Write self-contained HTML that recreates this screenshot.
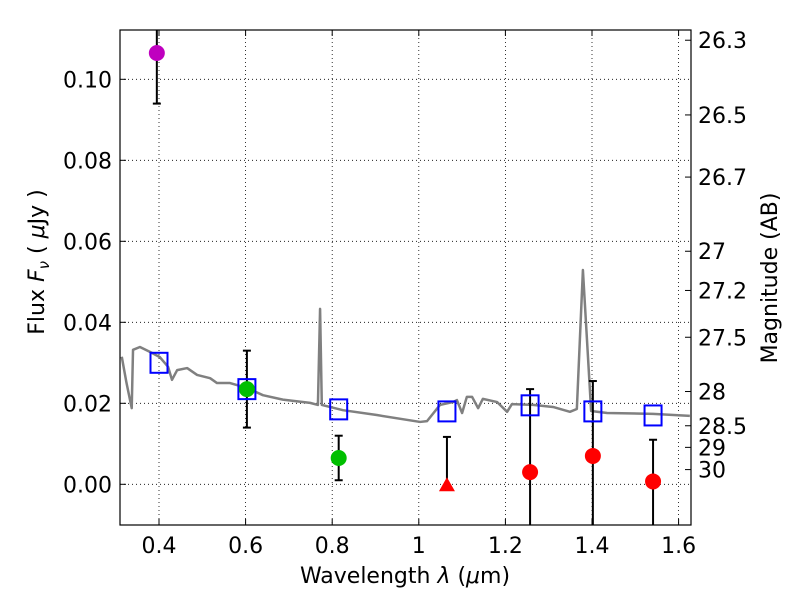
<!DOCTYPE html>
<html><head><meta charset="utf-8"><style>
body{margin:0;background:#fff;}
svg{display:block;font-family:"DejaVu Sans","Liberation Sans",sans-serif;}
</style></head><body>
<svg id="chart" width="800" height="600" xmlns="http://www.w3.org/2000/svg"></svg>
<script>
const specW=[0.314,0.325,0.337,0.340,0.356,0.379,0.402,0.421,0.430,0.442,0.465,0.488,0.518,0.534,0.564,0.603,0.640,0.686,0.749,0.767,0.772,0.776,0.825,0.903,1.003,1.019,1.049,1.079,1.088,1.100,1.111,1.123,1.137,1.148,1.181,1.204,1.215,1.264,1.310,1.349,1.365,1.379,1.398,1.435,1.541,1.626];
const specF=[0.0315,0.0250,0.0188,0.0332,0.0339,0.0327,0.0314,0.0290,0.0258,0.0282,0.0287,0.0270,0.0262,0.0250,0.0250,0.0238,0.0220,0.0209,0.0201,0.0196,0.0433,0.0196,0.0183,0.0171,0.0154,0.0156,0.0196,0.0203,0.0208,0.0176,0.0216,0.0216,0.0188,0.0211,0.0203,0.0179,0.0198,0.0196,0.0191,0.0179,0.0186,0.0529,0.0181,0.0176,0.0174,0.0169];
const modelW=[0.40,0.603,0.815,1.065,1.257,1.402,1.541];
const modelF=[0.0300,0.0235,0.0185,0.0180,0.0195,0.0180,0.0170];
const obsW=[0.395,0.603,0.815,1.257,1.402,1.541];
const obsF=[0.1065,0.0235,0.0065,0.0030,0.0070,0.0007];
const obsLo=[0.094,0.014,0.001,-0.011,-0.011,-0.011];
const obsHi=[0.113,0.033,0.012,0.0235,0.0255,0.011];
const obsColor=["#bf00bf","#00bf00","#00bf00","red","red","red"];
const limW=[1.065];const limF=[0.0];const limHi=[0.0117];
const xTicks=[0.4,0.6,0.8,1.0,1.2,1.4,1.6];
const xTickLabels=["0.4","0.6","0.8","1","1.2","1.4","1.6"];
const yTicks=[0.00,0.02,0.04,0.06,0.08,0.10];
const yTickLabels=["0.00","0.02","0.04","0.06","0.08","0.10"];
const magTicks=[26.3,26.5,26.7,27,27.2,27.5,28,28.5,29,30];
const magTickLabels=["26.3","26.5","26.7","27","27.2","27.5","28","28.5","29","30"];

const L=120,R=691,T=30,B=525;
const x=w=>159+(w-0.4)*433;
const y=f=>484.3-f*4050;
const NS="http://www.w3.org/2000/svg";
const svg=document.getElementById('chart');
function mk(tag,attrs,parent){const e=document.createElementNS(NS,tag);for(const k in attrs)e.setAttribute(k,attrs[k]);(parent||svg).appendChild(e);return e;}
const defs=mk('defs',{});const cp=mk('clipPath',{id:'clip'},defs);mk('rect',{x:L,y:T,width:R-L,height:B-T},cp);
const plot=mk('g',{'clip-path':'url(#clip)'});
xTicks.forEach(t=>{const l=mk('line',{x1:x(t),x2:x(t),y1:T,y2:B,stroke:'#000','stroke-width':0.8,'stroke-dasharray':'1,3'},plot);

});
yTicks.forEach(t=>{const l=mk('line',{x1:L,x2:R,y1:y(t),y2:y(t),stroke:'#000','stroke-width':0.8,'stroke-dasharray':'1,3'},plot);

});
const sp=mk('polyline',{points:specW.map((w,i)=>x(w)+','+y(specF[i])).join(' '),fill:'none',stroke:'#808080','stroke-width':2.5,'stroke-linejoin':'round'},plot);


obsW.forEach((w,i)=>{const g=mk('g',{stroke:'#000','stroke-width':2},plot);


mk('line',{x1:x(w),x2:x(w),y1:y(obsLo[i]),y2:y(obsHi[i])},g);
mk('line',{x1:x(w)-4,x2:x(w)+4,y1:y(obsLo[i]),y2:y(obsLo[i])},g);
mk('line',{x1:x(w)-4,x2:x(w)+4,y1:y(obsHi[i]),y2:y(obsHi[i])},g);});
limW.forEach((w,i)=>{const g=mk('g',{stroke:'#000','stroke-width':2},plot);


mk('line',{x1:x(w),x2:x(w),y1:y(limF[i]),y2:y(limHi[i])},g);
mk('line',{x1:x(w)-4,x2:x(w)+4,y1:y(limHi[i]),y2:y(limHi[i])},g);});
modelW.forEach((w,i)=>{const r=mk('rect',{x:x(w)-8.5,y:y(modelF[i])-10,width:17,height:20,fill:'none',stroke:'#0000ff','stroke-width':2},plot);

});
obsW.forEach((w,i)=>{const c=mk('circle',{cx:x(w),cy:y(obsF[i]),r:8,fill:obsColor[i]},plot);

});
limW.forEach((w,i)=>{const cx=x(w),cy=y(limF[i]);const p=mk('polygon',{points:`${cx},${cy-7} ${cx-8},${cy+7} ${cx+8},${cy+7}`,fill:'red'},plot);

});
const fr=mk('rect',{x:L,y:T,width:R-L,height:B-T,fill:'none',stroke:'#000','stroke-width':1.2});


xTicks.forEach((t,i)=>{mk('line',{x1:x(t),x2:x(t),y1:B,y2:B-6,stroke:'#000'});mk('line',{x1:x(t),x2:x(t),y1:T,y2:T+6,stroke:'#000'});
const tx=mk('text',{x:x(t),y:B+28,'font-size':22,'text-anchor':'middle'});tx.textContent=xTickLabels[i];

});
yTicks.forEach((t,i)=>{mk('line',{x1:L,x2:L+6,y1:y(t),y2:y(t),stroke:'#000'});
const tx=mk('text',{x:L-8,y:y(t)+8,'font-size':22,'text-anchor':'end'});tx.textContent=yTickLabels[i];

});
magTicks.forEach((m,i)=>{const f=Math.pow(10,(23.9-m)/2.5);const yy=y(f);mk('line',{x1:R,x2:R-6,y1:yy,y2:yy,stroke:'#000'});
const tx=mk('text',{x:R+7,y:yy+8,'font-size':22});tx.textContent=magTickLabels[i];

});
let t=mk('text',{x:405,y:583,'font-size':22,'text-anchor':'middle'});t.innerHTML='Wavelength  <tspan font-style="italic">λ</tspan> (<tspan font-style="italic">μ</tspan>m)';


t=mk('text',{x:0,y:0,'font-size':22,'text-anchor':'middle',transform:'translate(44,262) rotate(-90)'});t.innerHTML='Flux  <tspan font-style="italic">F</tspan><tspan font-style="italic" font-size="15" dy="5">ν</tspan><tspan dy="-5">  ( </tspan><tspan font-style="italic">μ</tspan>Jy )';


t=mk('text',{x:0,y:0,'font-size':22,'text-anchor':'middle',transform:'translate(777,278) rotate(-90)'});t.textContent='Magnitude (AB)';


</script>
</body></html>
